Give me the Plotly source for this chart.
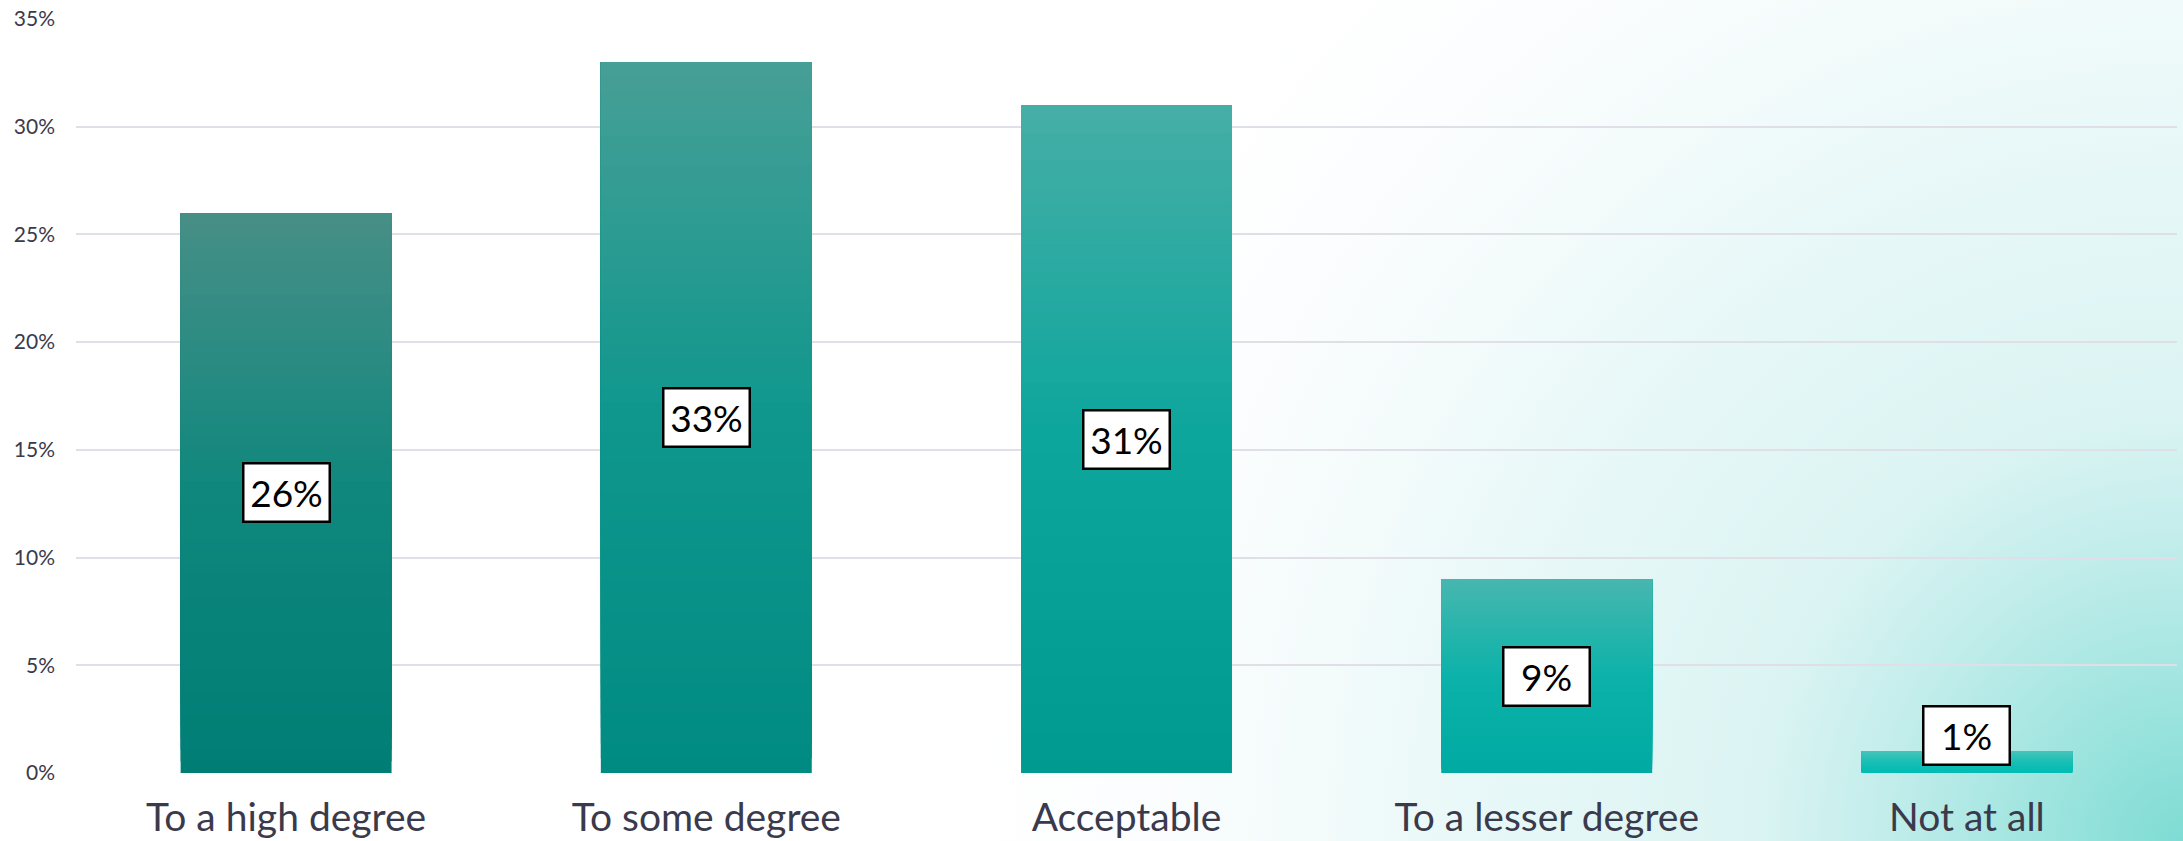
import base64
import plotly.graph_objects as go

# ---- data -------------------------------------------------------------
categories = ["To a high degree", "To some degree", "Acceptable",
              "To a lesser degree", "Not at all"]
shares = [26, 33, 31, 9, 1]          # percent of respondents
tick_values = [0, 5, 10, 15, 20, 25, 30, 35]
tick_labels = [f"{t}%" for t in tick_values]

# per-bar vertical gradient: colour at top, middle and bottom of each bar
bar_top = ["#478f87", "#479f96", "#46aea6", "#47b7af", "#45c3ba"]
bar_mid = ["#0f877d", "#0f978d", "#0ca69d", "#0cb2a9", "#18beb5"]
bar_bottom = ["#007e75", "#008b82", "#009a91", "#00aaa2", "#00bcb2"]

W, H = 2183, 841
M_L, M_R, M_T, M_B = 76, 6, 19, 68
N_SLICES = 48


def hex_to_rgb(h):
    h = h.lstrip("#")
    return tuple(int(h[i:i + 2], 16) for i in (0, 2, 4))


def mix(c1, c2, t):
    a, b = hex_to_rgb(c1), hex_to_rgb(c2)
    return "rgb({},{},{})".format(*[round(a[i] + (b[i] - a[i]) * t) for i in range(3)])


def gradient_color(i, t):
    """t = 0 at bar bottom, 1 at bar top."""
    if t < 0.5:
        return mix(bar_bottom[i], bar_mid[i], t / 0.5)
    return mix(bar_mid[i], bar_top[i], (t - 0.5) / 0.5)


fig = go.Figure()

# Each bar is painted as a stack of overlapping layers: layer k runs from
# k/N of the bar's value up to the full value, so later layers cover the
# upper part and produce a smooth bottom-to-top gradient without seams.
for k in range(N_SLICES):
    frac = k / N_SLICES
    fig.add_trace(go.Bar(
        x=categories,
        y=[v * (1 - frac) for v in shares],
        base=[v * frac for v in shares],
        marker=dict(color=[gradient_color(i, (k + 0.5) / N_SLICES)
                           for i in range(len(shares))],
                    line=dict(width=0)),
        hoverinfo="skip",
        showlegend=False,
    ))

# value labels in white boxes, centred on the bar (kept clear of the axis)
for cat, v in zip(categories, shares):
    fig.add_annotation(
        x=cat, y=max(v / 2, 1.72), xref="x", yref="y",
        text=f"{v}%", showarrow=False,
        font=dict(family="Lato", size=37, color="#000000"),
        bgcolor="#ffffff", bordercolor="#000000", borderwidth=2.5,
        borderpad=3, width=78, height=50,
    )

# soft teal glow rising from the lower-right corner of the page
svg = f"""<svg xmlns='http://www.w3.org/2000/svg' width='{W}' height='{H}' viewBox='0 0 {W} {H}' preserveAspectRatio='none'>
<defs><radialGradient id='g' gradientUnits='userSpaceOnUse' cx='{W}' cy='{H}' r='1200'>
<stop offset='0' stop-color='#7edcd4'/>
<stop offset='0.25' stop-color='#c2edeb'/>
<stop offset='0.36' stop-color='#dbf4f3'/>
<stop offset='0.6' stop-color='#e9f8f8'/>
<stop offset='0.72' stop-color='#f3fbfb'/>
<stop offset='0.86' stop-color='#fbfdfe'/>
<stop offset='1' stop-color='#ffffff'/>
</radialGradient></defs>
<rect width='{W}' height='{H}' fill='url(#g)'/></svg>"""
bg_uri = "data:image/svg+xml;base64," + base64.b64encode(svg.encode()).decode()

plot_w = W - M_L - M_R
plot_h = H - M_T - M_B
fig.add_layout_image(
    source=bg_uri, xref="paper", yref="paper",
    x=-M_L / plot_w, y=1 + M_T / plot_h,
    sizex=W / plot_w, sizey=H / plot_h,
    xanchor="left", yanchor="top", sizing="stretch", layer="below",
)

fig.update_layout(
    width=W, height=H, autosize=False,
    margin=dict(l=M_L, r=M_R, t=M_T, b=M_B, pad=0),
    paper_bgcolor="#ffffff", plot_bgcolor="rgba(0,0,0,0)",
    barmode="overlay", bargap=0.498,
    showlegend=False,
    font=dict(family="Lato", color="#3a3a4c"),
)
fig.update_xaxes(
    showgrid=False, showline=False, zeroline=False, ticks="",
    tickfont=dict(family="Lato", size=39, color="#3a3a4c"),
    ticklabelstandoff=18, automargin=False,
)
fig.update_yaxes(
    range=[0, 35], tickmode="array", tickvals=tick_values, ticktext=tick_labels,
    showgrid=True, gridcolor="#e0dfe7", gridwidth=2,
    zeroline=False, showline=False, ticks="",
    tickfont=dict(family="Lato", size=21, color="#3a3a4c"),
    ticklabelstandoff=20, automargin=False,
)

fig.write_html("out.html")
